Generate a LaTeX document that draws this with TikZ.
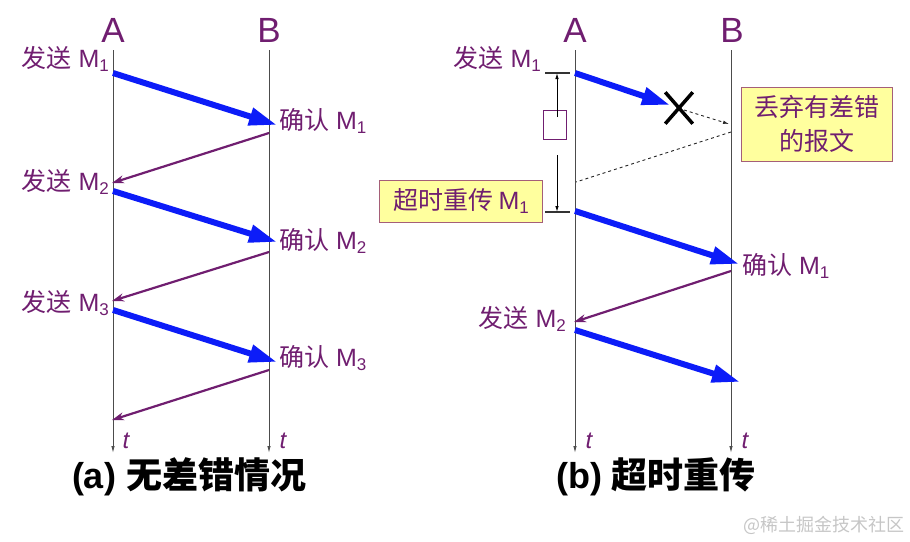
\documentclass[tikz,border=0pt]{standalone}
\usepackage{fontspec}
\setmainfont{Liberation Sans}
\newfontfamily\cjk{Noto Sans CJK SC}
\usepackage{xcolor}
\usetikzlibrary{arrows.meta, positioning, calc, shapes.misc}

\definecolor{msgpurple}{RGB}{112,30,112}
\definecolor{pktblue}{RGB}{12,28,248}
\definecolor{notefill}{RGB}{255,255,158}
\definecolor{notedraw}{RGB}{165,95,120}

\newcommand\msub[1]{\raisebox{-0.28ex}{\fontsize{17}{17}\selectfont #1}}
\newcommand\sendtxt[1]{{\cjk 发送} M\msub{#1}}
\newcommand\acktxt[1]{{\cjk 确认} M\msub{#1}}

\tikzset{
    host/.style={
        text=msgpurple, inner sep=0pt,
        font=\fontsize{35}{36}\selectfont,
    },
    lbl/.style={
        text=msgpurple, inner sep=0pt,
        font=\fontsize{25}{28}\selectfont,
    },
    tlbl/.style={
        text=msgpurple, inner sep=0pt,
        font=\fontsize{24}{24}\selectfont\itshape,
    },
    lifeline/.style={
        draw=black!70, line width=0.9pt,
        -{Latex[length=7pt,width=3.5pt]},
    },
    pkt/.style={
        draw=pktblue, line width=6pt,
        -{Triangle[length=28pt,width=17pt]},
    },
    ack/.style={
        draw=msgpurple, line width=2.2pt,
        -{Stealth[length=12pt,width=8pt]},
    },
    note/.style={
        rectangle, draw=notedraw, fill=notefill, line width=1pt,
        text=msgpurple, align=center, inner sep=0pt,
        font=\fontsize{25}{34}\selectfont\cjk,
    },
    timerbox/.style={
        rectangle, draw=msgpurple, line width=0.8pt,
        minimum width=23pt, minimum height=29pt, inner sep=0pt,
    },
    tick/.style={draw=black!80, line width=1.2pt},
    span/.style={
        draw=black, line width=0.9pt,
        -{Latex[length=6pt,width=3.5pt]},
    },
    lostline/.style={draw=black!85, line width=0.9pt, dashed},
    caption/.style={
        inner sep=0pt, font=\fontsize{36}{36}\selectfont\bfseries,
    },
}

\begin{document}
\begin{tikzpicture}[x=1pt, y=-1pt]
    \useasboundingbox (0,0) rectangle (910,541);

    % ── (a) hosts and time axes ──
    \node[host] (hostA1) at (113,30) {A};
    \node[host] (hostB1) at (269,30) {B};
    \coordinate (A1top) at (113,50);
    \coordinate (A1end) at (113,453);
    \coordinate (B1top) at (269,50);
    \coordinate (B1end) at (269,453);
    \draw[lifeline] (A1top) -- (A1end);
    \draw[lifeline] (B1top) -- (B1end);
    \node[tlbl] (tA1) at (126,441) {t};
    \node[tlbl] (tB1) at (283,441) {t};

    % ── (a) frames and acks ──
    \coordinate (sendA1) at (113,73);
    \coordinate (recvB1) at (277,125);
    \coordinate (ackB1)  at (269,133);
    \coordinate (ackA1)  at (112,183);
    \coordinate (sendA2) at (113,191);
    \coordinate (recvB2) at (277,242);
    \coordinate (ackB2)  at (269,252);
    \coordinate (ackA2)  at (112,301);
    \coordinate (sendA3) at (113,310);
    \coordinate (recvB3) at (277,362);
    \coordinate (ackB3)  at (269,370);
    \coordinate (ackA3)  at (112,420);

    \draw[pkt] (sendA1) -- (recvB1);
    \draw[ack] (ackB1)  -- (ackA1);
    \draw[pkt] (sendA2) -- (recvB2);
    \draw[ack] (ackB2)  -- (ackA2);
    \draw[pkt] (sendA3) -- (recvB3);
    \draw[ack] (ackB3)  -- (ackA3);

    \node[lbl, anchor=east] (send1) at (109,59)  {\sendtxt{1}};
    \node[lbl, anchor=east] (send2) at (109,182) {\sendtxt{2}};
    \node[lbl, anchor=east] (send3) at (109,303) {\sendtxt{3}};
    \node[lbl, anchor=west] (conf1) at (279,121) {\acktxt{1}};
    \node[lbl, anchor=west] (conf2) at (279,241) {\acktxt{2}};
    \node[lbl, anchor=west] (conf3) at (279,358) {\acktxt{3}};

    \node[caption] (capA) at (189,477) {(a) {\cjk 无差错情况}};

    % ── (b) hosts and time axes ──
    \node[host] (hostA2) at (575,30) {A};
    \node[host] (hostB2) at (732,30) {B};
    \coordinate (A2top) at (575,50);
    \coordinate (A2end) at (575,453);
    \coordinate (B2top) at (731,50);
    \coordinate (B2end) at (731,453);
    \draw[lifeline] (A2top) -- (A2end);
    \draw[lifeline] (B2top) -- (B2end);
    \node[tlbl] (tA2) at (589,441) {t};
    \node[tlbl] (tB2) at (745,441) {t};

    % ── (b) lost frame ──
    \coordinate (lsend1) at (575,73);
    \coordinate (lhit)   at (670,105);
    \draw[pkt] (lsend1) -- (lhit);
    \node[cross out, draw=black, line width=3.5pt,
          minimum width=24pt, minimum height=28pt] (lost) at (679,108) {};
    \coordinate (dropB) at (729,124);
    \coordinate (waitB) at (731,132);
    \coordinate (waitA) at (576,182);
    \draw[lostline, -{Latex[length=6pt,width=3.5pt]}] (lost.center) ++(5,2) coordinate (lostend) (lostend) -- (dropB);
    \draw[lostline] (waitB) -- (waitA);

    \node[note, minimum width=151pt, minimum height=74pt] (dropnote)
        at (817,124) {丢弃有差错\\的报文};

    % ── (b) retransmission timer ──
    \coordinate (tickL1) at (545,73);
    \coordinate (tickR1) at (570,73);
    \coordinate (tickL2) at (545,212);
    \coordinate (tickR2) at (570,212);
    \draw[tick] (tickL1) -- (tickR1);
    \draw[tick] (tickL2) -- (tickR2);
    \node[timerbox] (timer) at (554.5,124.5) {};
    \coordinate (spanU) at (557,117);
    \coordinate (spanUe) at (557,73);
    \coordinate (spanD) at (557,155);
    \coordinate (spanDe) at (557,212);
    \draw[span] (spanU) -- (spanUe);
    \draw[span] (spanD) -- (spanDe);

    \node[note, minimum width=163pt, minimum height=42pt] (retxnote)
        at (461,201) {超时重传 {\normalfont\fontsize{25}{28}\selectfont M\msub{1}}};

    % ── (b) retransmitted frame and next ──
    \coordinate (rsend1) at (575,211);
    \coordinate (rrecv1) at (739,264);
    \coordinate (rackB)  at (731,271);
    \coordinate (rackA)  at (574,322);
    \coordinate (rsend2) at (575,330);
    \coordinate (rrecv2) at (740,382);
    \draw[pkt] (rsend1) -- (rrecv1);
    \draw[ack] (rackB)  -- (rackA);
    \draw[pkt] (rsend2) -- (rrecv2);

    \node[lbl, anchor=east] (lsendlbl1) at (541,59)  {\sendtxt{1}};
    \node[lbl, anchor=west] (rconf1)    at (742,266) {\acktxt{1}};
    \node[lbl, anchor=east] (rsendlbl2) at (566,319) {\sendtxt{2}};

    \node[caption] (capB) at (656,477) {(b) {\cjk 超时重传}};

    % ── watermark ──
    \node[inner sep=0pt, text=gray!45, font=\fontsize{18}{18}\selectfont\cjk]
        (mark) at (824,525) {@稀土掘金技术社区};

\end{tikzpicture}
\end{document}
